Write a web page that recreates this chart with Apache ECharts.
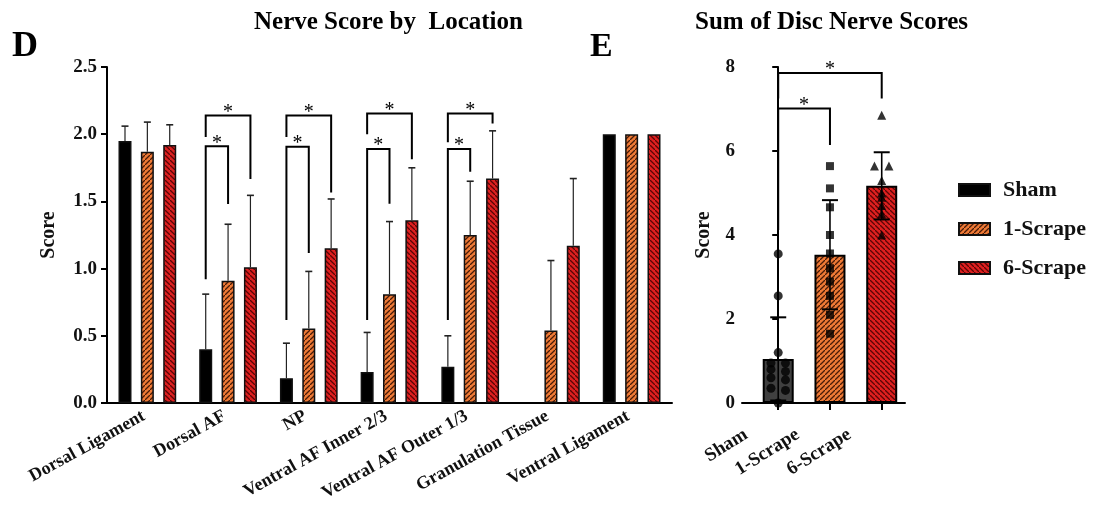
<!DOCTYPE html>
<html><head><meta charset="utf-8">
<script src="https://cdn.jsdelivr.net/npm/echarts@6/dist/echarts.min.js"></script>
<style>html,body{margin:0;padding:0;background:#fff}#c{width:1099px;height:529px}</style>
</head><body><div id="c"></div>
<script>
// ---------- data ----------
const locations = ['Dorsal Ligament','Dorsal AF','NP','Ventral AF Inner 2/3','Ventral AF Outer 1/3','Granulation Tissue','Ventral Ligament'];
const groups = ['Sham','1-Scrape','6-Scrape'];
const shamMean = [1.95,0.40,0.185,0.23,0.27,null,2.0];
const shamSD   = [0.11,0.41,0.26,0.295,0.23,null,null];
const oneMean  = [1.87,0.91,0.554,0.81,1.25,0.54,2.0];
const oneSD    = [0.22,0.42,0.425,0.54,0.40,0.52,null];
const sixMean  = [1.92,1.01,1.152,1.36,1.67,1.17,2.0];
const sixSD    = [0.15,0.535,0.366,0.39,0.355,0.50,null];
// [location index, from group, to group, bracket level, left leg bottom, right leg bottom]
const nerveBrackets = [
  [1,0,2,2.14,1.98,1.667],[1,0,1,1.91,0.92,1.48],
  [2,0,2,2.14,1.98,1.566],[2,0,1,1.907,0.618,1.117],
  [3,0,2,2.154,2.0,1.813],[3,0,1,1.89,0.618,1.482],
  [4,0,2,2.154,1.94,2.08],[4,0,1,1.89,0.618,1.72]
];
const sumCats = ['Sham','1-Scrape','6-Scrape'];
const sumMean = [1.05,3.53,5.17];
const sumSD   = [0.99,1.30,0.80];
const shamPts = [3.55,2.55,1.2,0.95,0.95,0.8,0.75,0.6,0.55,0.35,0.3,0];
const onePts  = [5.64,5.11,4.66,4.0,3.56,3.21,2.89,2.55,2.1,1.65];
const sixPts  = [6.85,5.64,5.64,5.3,5.0,4.9,4.7,4.5,4.0];
// [from, to, bracket level, left leg bottom, right leg bottom]
const sumBrackets = [[0,2,7.86,7.25,7.25],[0,1,7.01,4.12,6.14]];

// ---------- styles ----------
const FONT = '"Liberation Serif","Times New Roman",serif';
function hatch(bg, line, dir){
  const s=5, cv=document.createElement('canvas'); cv.width=s; cv.height=s;
  const ctx=cv.getContext('2d'); ctx.fillStyle=bg; ctx.fillRect(0,0,s,s);
  ctx.strokeStyle=line; ctx.lineWidth=1.3; ctx.beginPath();
  if(dir>0){ ctx.moveTo(-1,s+1); ctx.lineTo(s+1,-1); ctx.moveTo(-2,1); ctx.lineTo(1,-2); ctx.moveTo(s-1,s+2); ctx.lineTo(s+2,s-1); }
  else { ctx.moveTo(-1,-1); ctx.lineTo(s+1,s+1); ctx.moveTo(s-1,-2); ctx.lineTo(s+2,1); ctx.moveTo(-2,s-1); ctx.lineTo(1,s+2); }
  ctx.stroke(); return cv;
}
const orangePat = {image: hatch('#EE7A36','#4a1c08',1), repeat:'repeat'};
const redPat = {image: hatch('#DE2020','#5a0606',-1), repeat:'repeat'};
const groupFill = ['#000000', orangePat, redPat];

const BAR_W = 13, BAR_GAP = 0.72, SPACING = BAR_W*(1+BAR_GAP);

// ---------- derived ----------
const means = [shamMean, oneMean, sixMean], sds = [shamSD, oneSD, sixSD];
const errData = [];
means.forEach((m,g)=>m.forEach((v,i)=>{ if(v!=null && sds[g][i]!=null) errData.push([i,g,v,v+sds[g][i]]); }));

function spread(vals, thr, step){
  const idx = vals.map((v,i)=>i).sort((a,b)=>vals[b]-vals[a]);
  const off = new Array(vals.length).fill(0); let k=0;
  while(k<idx.length){ let e=k+1; while(e<idx.length && Math.abs(vals[idx[e]]-vals[idx[k]])<thr) e++;
    const n=e-k; for(let j=k;j<e;j++) off[idx[j]]=(j-k-(n-1)/2)*step; k=e; }
  return off;
}
function pts(vals, cat){ const o=spread(vals,0.08,0.28); return vals.map((v,i)=>[cat+o[i], v]); }

const chart = echarts.init(document.getElementById('c'));
const axisStyle = {lineStyle:{color:'#000',width:2}};
const labelFont = {fontFamily:FONT, fontWeight:'bold', color:'#111'};
const nameStyle = {fontFamily:FONT,fontWeight:'bold',fontSize:20,color:'#111'};

chart.setOption({
  animation:false,
  backgroundColor:'#fff',
  grid:[{left:107, top:67, width:565, height:336},{left:742, top:67, width:163, height:336}],
  xAxis:[
    {type:'category', gridIndex:0, data:locations, axisLine:axisStyle,
     axisTick:{alignWithLabel:true, length:7, lineStyle:{color:'#000',width:2}},
     axisLabel:Object.assign({rotate:29, fontSize:18, margin:10, interval:0, padding:[0,4,0,0]}, labelFont)},
    {type:'value', gridIndex:1, min:-0.7, max:2.45, splitLine:{show:false}, axisLine:axisStyle,
     axisTick:{show:true, customValues:[0,1,2], length:7, lineStyle:{color:'#000',width:2}},
     axisLabel:Object.assign({customValues:[0,1,2], rotate:32, fontSize:19, margin:10, padding:[0,38,0,0],
       formatter:v=>sumCats[Math.round(v)]}, labelFont)}
  ],
  yAxis:[
    {type:'value', gridIndex:0, min:0, max:2.5, interval:0.5, splitLine:{show:false},
     axisLine:Object.assign({show:true},axisStyle), axisTick:{show:true,length:6,lineStyle:{color:'#000',width:2}},
     axisLabel:Object.assign({fontSize:19, margin:10, formatter:v=>v.toFixed(1)}, labelFont),
     name:'Score', nameLocation:'middle', nameGap:48, nameTextStyle:nameStyle},
    {type:'value', gridIndex:1, min:0, max:8, interval:2, splitLine:{show:false},
     axisLine:Object.assign({show:true},axisStyle), axisTick:{show:true,length:6,lineStyle:{color:'#000',width:2}},
     axisLabel:Object.assign({fontSize:19, margin:7}, labelFont),
     name:'Score', nameLocation:'middle', nameGap:28, nameTextStyle:nameStyle}
  ],
  legend:{data:groups, orient:'vertical', left:953, top:174, itemWidth:31, itemHeight:12, itemGap:17,
    icon:'rect', selectedMode:false,
    textStyle:{fontFamily:FONT,fontWeight:'bold',fontSize:22,lineHeight:22,color:'#111',padding:[0,0,0,8]}},
  graphic:[
    {type:'text', left:12, top:29, style:{text:'D', font:'bold 36px '+FONT, fill:'#000'}},
    {type:'text', left:590, top:30, style:{text:'E', font:'bold 34px '+FONT, fill:'#000'}},
    {type:'text', left:254, top:10, style:{text:'Nerve Score by  Location', font:'bold 25px '+FONT, fill:'#000'}},
    {type:'text', left:695, top:10, style:{text:'Sum of Disc Nerve Scores', font:'bold 25px '+FONT, fill:'#000'}}
  ],
  series:[
    ...groups.map((g,i)=>({type:'bar', name:g, xAxisIndex:0, yAxisIndex:0, data:means[i], barWidth:BAR_W,
      barGap:(BAR_GAP*100)+'%', itemStyle:{color:groupFill[i], borderColor:'#111', borderWidth:1.5}})),
    {type:'custom', name:'err', xAxisIndex:0, yAxisIndex:0, data:errData, encode:{x:0,y:3}, clip:false, z:3,
      renderItem:(p,api)=>{
        const cat=api.value(0), g=api.value(1);
        const b=api.coord([cat,api.value(2)]), t=api.coord([cat,api.value(3)]);
        const x=b[0]+(g-1)*SPACING;
        return {type:'group',children:[
          {type:'line',shape:{x1:x,y1:b[1],x2:x,y2:t[1]},style:{stroke:'#222',lineWidth:1.2}},
          {type:'line',shape:{x1:x-3.5,y1:t[1],x2:x+3.5,y2:t[1]},style:{stroke:'#222',lineWidth:1.6}}]};
      }},
    {type:'custom', name:'brk', xAxisIndex:0, yAxisIndex:0, data:nerveBrackets, encode:{x:0,y:3}, clip:false, z:4,
      renderItem:(p,api)=>{
        const cat=api.value(0), g1=api.value(1), g2=api.value(2);
        const c=api.coord([cat,api.value(3)]);
        const x1=c[0]+(g1-1)*SPACING, x2=c[0]+(g2-1)*SPACING;
        const yl=api.coord([cat,api.value(4)])[1], yr=api.coord([cat,api.value(5)])[1];
        return {type:'group',children:[
          {type:'polyline',shape:{points:[[x1,yl],[x1,c[1]],[x2,c[1]],[x2,yr]]},style:{stroke:'#000',lineWidth:2,fill:null}},
          {type:'text',style:{text:'*',x:(x1+x2)/2,y:c[1]+7,textAlign:'center',textVerticalAlign:'bottom',font:'20px '+FONT,fill:'#000'}}]};
      }},
    {type:'bar', name:'sum', xAxisIndex:1, yAxisIndex:1, barWidth:31,
      data:sumMean.map((v,i)=>({value:[i,v], itemStyle:{color:i===0?'#404040':groupFill[i]}})),
      itemStyle:{borderColor:'#000', borderWidth:2}},
    {type:'custom', name:'sumErr', xAxisIndex:1, yAxisIndex:1, data:sumMean.map((v,i)=>[i,v-sumSD[i],v+sumSD[i]]),
      encode:{x:0,y:2}, clip:false, z:3,
      renderItem:(p,api)=>{
        const lo=api.coord([api.value(0),api.value(1)]), hi=api.coord([api.value(0),api.value(2)]);
        const x=lo[0];
        return {type:'group',children:[
          {type:'line',shape:{x1:x,y1:lo[1],x2:x,y2:hi[1]},style:{stroke:'#000',lineWidth:1.6}},
          {type:'line',shape:{x1:x-8,y1:hi[1],x2:x+8,y2:hi[1]},style:{stroke:'#000',lineWidth:2}},
          {type:'line',shape:{x1:x-8,y1:lo[1],x2:x+8,y2:lo[1]},style:{stroke:'#000',lineWidth:2}}]};
      }},
    {type:'scatter', name:'shamPts', xAxisIndex:1, yAxisIndex:1, data:pts(shamPts,0), symbol:'circle', symbolSize:9, itemStyle:{color:'#000'}, z:5},
    {type:'scatter', name:'onePts', xAxisIndex:1, yAxisIndex:1, data:pts(onePts,1), symbol:'rect', symbolSize:8, itemStyle:{color:'#000'}, z:5},
    {type:'scatter', name:'sixPts', xAxisIndex:1, yAxisIndex:1, data:pts(sixPts,2), symbol:'triangle', symbolSize:9, itemStyle:{color:'#000'}, z:5},
    {type:'custom', name:'sumBrk', xAxisIndex:1, yAxisIndex:1, data:sumBrackets, encode:{x:0,y:2}, clip:false, z:4,
      renderItem:(p,api)=>{
        const a=api.coord([api.value(0),api.value(2)]), b=api.coord([api.value(1),api.value(2)]);
        const yl=api.coord([0,api.value(3)])[1], yr=api.coord([0,api.value(4)])[1];
        return {type:'group',children:[
          {type:'polyline',shape:{points:[[a[0],yl],[a[0],a[1]],[b[0],a[1]],[b[0],yr]]},style:{stroke:'#000',lineWidth:2,fill:null}},
          {type:'text',style:{text:'*',x:(a[0]+b[0])/2,y:a[1]+7,textAlign:'center',textVerticalAlign:'bottom',font:'20px '+FONT,fill:'#000'}}]};
      }}
  ]
});
</script></body></html>
